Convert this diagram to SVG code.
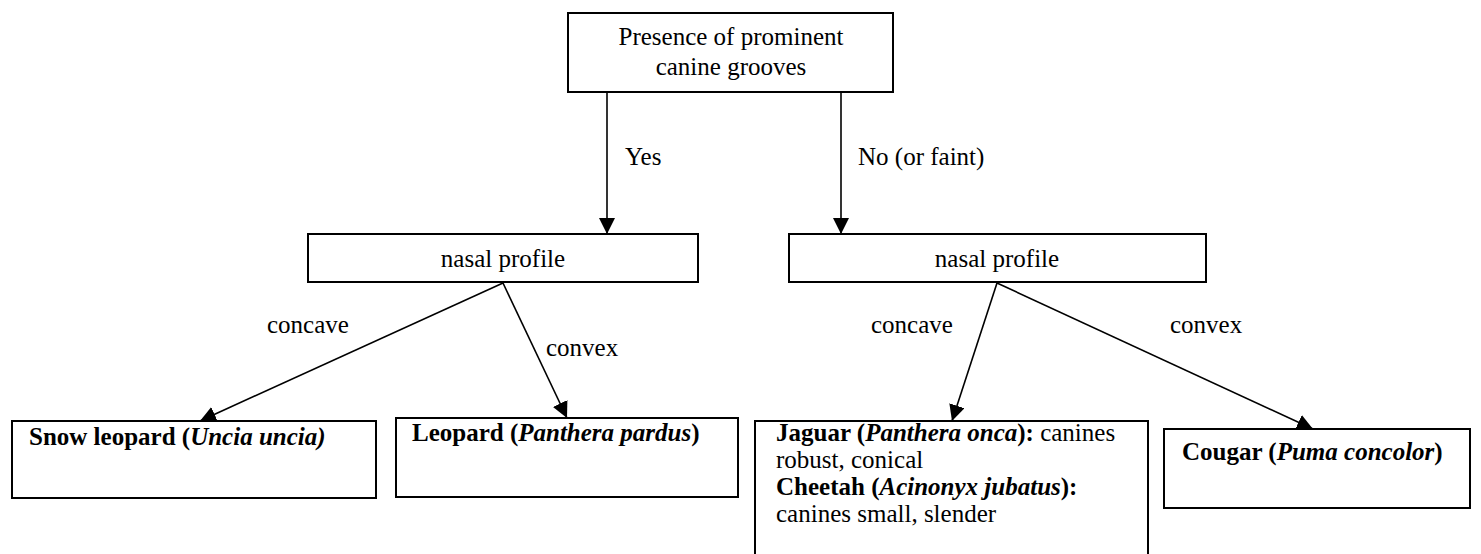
<svg xmlns="http://www.w3.org/2000/svg" width="1481" height="554" viewBox="0 0 1481 554">
<style>
rect.box{fill:#fff;stroke:#000;stroke-width:2}
text{font-family:'Liberation Serif','Times New Roman',serif;font-size:25px;fill:#000}
.c{text-anchor:middle}
.b{font-weight:bold}
.i{font-style:italic}
line.e{stroke:#000;stroke-width:1.6;marker-end:url(#ah)}
</style>
<defs>
<marker id="ah" markerUnits="userSpaceOnUse" markerWidth="16" markerHeight="16" viewBox="0 0 15 15" refX="15" refY="7.5" orient="auto">
<path d="M0,0 L15,7.5 L0,15 z" fill="#000"/>
</marker>
</defs>
<rect width="1481" height="554" fill="#fff"/>
<g id="connectors">
<line class="e" x1="607" y1="92" x2="607" y2="234"/>
<line class="e" x1="841" y1="92" x2="841" y2="234"/>
<line class="e" x1="503" y1="283" x2="200" y2="421"/>
<line class="e" x1="503" y1="283" x2="567" y2="418"/>
<line class="e" x1="997" y1="283" x2="952" y2="421"/>
<line class="e" x1="997" y1="283" x2="1313" y2="429"/>
<text x="625" y="165">Yes</text>
<text x="858" y="165">No (or faint)</text>
<text x="267" y="333">concave</text>
<text x="546" y="356">convex</text>
<text x="871" y="333">concave</text>
<text x="1170" y="333">convex</text>
</g>
<g id="root">
<rect class="box" x="568" y="13" width="325" height="79"/>
<text class="c" x="731" y="45">Presence of prominent</text>
<text class="c" x="731" y="75">canine grooves</text>
</g>
<g id="nasal-left">
<rect class="box" x="308" y="234" width="390" height="48"/>
<text class="c" x="503" y="267">nasal profile</text>
</g>
<g id="nasal-right">
<rect class="box" x="789" y="234" width="417" height="48"/>
<text class="c" x="997" y="267">nasal profile</text>
</g>
<g id="snow-leopard">
<rect class="box" x="12" y="421" width="364" height="77"/>
<text x="29" y="445" class="b">Snow leopard (<tspan class="i">Uncia uncia)</tspan></text>
</g>
<g id="leopard">
<rect class="box" x="396" y="418" width="342" height="79"/>
<text x="412" y="441" class="b">Leopard (<tspan class="i">Panthera pardus</tspan>)</text>
</g>
<g id="jaguar-cheetah">
<rect class="box" x="755" y="421" width="393" height="140"/>
<text x="776" y="441"><tspan class="b">Jaguar (<tspan class="i">Panthera onca</tspan>):</tspan> canines</text>
<text x="776" y="468">robust, conical</text>
<text x="776" y="495" class="b">Cheetah (<tspan class="i">Acinonyx jubatus</tspan>):</text>
<text x="776" y="522">canines small, slender</text>
</g>
<g id="cougar">
<rect class="box" x="1164" y="429" width="306" height="79"/>
<text x="1182" y="460" class="b">Cougar (<tspan class="i">Puma concolor</tspan>)</text>
</g>
</svg>
